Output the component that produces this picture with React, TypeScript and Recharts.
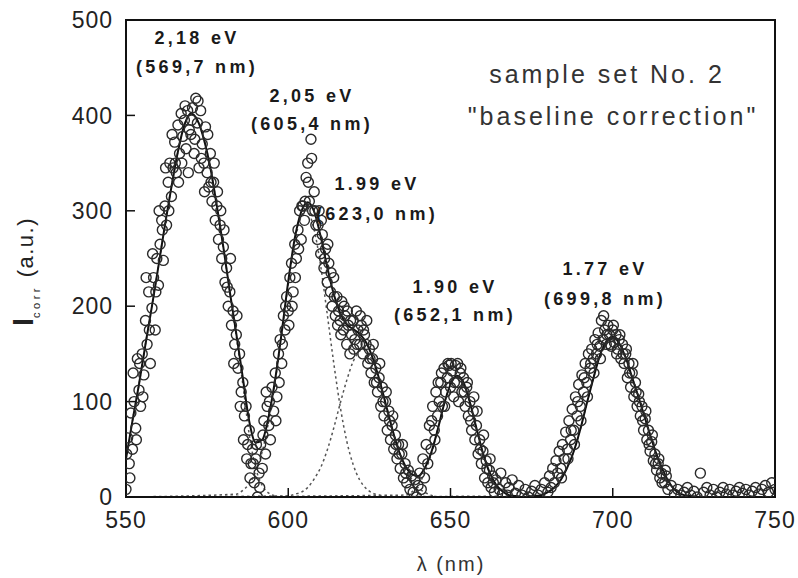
import React from 'react';
import { ComposedChart, Line, Scatter, XAxis, YAxis, ReferenceArea } from 'recharts';

const measured: [number, number][] = [
  [550, 8], [550.5, 62], [551, 35], [551.5, 88], [552, 50], [552.5, 100], [553, 72], [553.5, 145], [554, 112], [554.5, 95],
  [555, 150], [555.5, 128], [556, 185], [556.5, 160], [557, 215], [557.5, 140], [558, 198], [558.5, 230], [559, 175], [559.5, 250],
  [560, 222], [560.5, 265], [561, 290], [561.5, 248], [562, 305], [562.5, 285], [563, 330], [563.5, 350], [564, 315], [564.5, 345],
  [565, 372], [565.5, 340], [566, 390], [566.5, 360], [567, 402], [567.5, 378], [568, 395], [568.5, 365], [569, 405], [569.5, 385],
  [570, 380], [570.5, 408], [571, 360], [571.5, 418], [572, 392], [572.5, 345], [573, 405], [573.5, 370], [574, 350], [574.5, 388],
  [575, 340], [575.5, 325], [576, 360], [576.5, 310], [577, 330], [577.5, 290], [578, 305], [578.5, 270], [579, 285], [579.5, 250],
  [580, 262], [580.5, 225], [581, 240], [581.5, 200], [582, 215], [582.5, 180], [583, 195], [583.5, 160], [584, 170], [584.5, 135],
  [585, 150], [585.5, 110], [586, 120], [586.5, 85], [587, 95], [587.5, 55], [588, 70], [588.5, 35], [589, 50], [589.5, 15],
  [590, 40], [590.5, 0], [591, 25], [591.5, 55], [592, 30], [592.5, 80], [593, 45], [593.5, 95], [594, 75], [594.5, 60],
  [595, 115], [595.5, 90], [596, 130], [596.5, 105], [597, 150], [597.5, 165], [598, 140], [598.5, 190], [599, 175], [599.5, 210],
  [600, 195], [600.5, 230], [601, 245], [601.5, 215], [602, 265], [602.5, 250], [603, 280], [603.5, 300], [604, 270], [604.5, 305],
  [605, 290], [605.5, 335], [606, 350], [606.5, 310], [607, 375], [607.5, 300], [608, 320], [608.5, 285], [609, 270], [609.5, 300],
  [610, 255], [610.5, 275], [611, 240], [611.5, 260], [612, 225], [612.5, 245], [613, 215], [613.5, 200], [614, 230], [614.5, 190],
  [615, 210], [615.5, 195], [616, 185], [616.5, 205], [617, 175], [617.5, 190], [618, 160], [618.5, 180], [619, 150], [619.5, 170],
  [620, 185], [620.5, 165], [621, 195], [621.5, 175], [622, 160], [622.5, 180], [623, 150], [623.5, 170], [624, 160], [624.5, 140],
  [625, 155], [625.5, 130], [626, 145], [626.5, 120], [627, 135], [627.5, 110], [628, 125], [628.5, 95], [629, 115], [629.5, 85],
  [630, 100], [630.5, 70], [631, 90], [631.5, 60], [632, 75], [632.5, 50], [633, 65], [633.5, 40], [634, 55], [634.5, 30],
  [635, 45], [635.5, 20], [636, 35], [636.5, 15], [637, 28], [637.5, 8], [638, 22], [638.5, 5], [639, 18], [639.5, 0],
  [640, 12], [640.5, 25], [641, 8], [641.5, 40], [642, 20], [642.5, 55], [643, 35], [643.5, 75], [644, 50], [644.5, 95],
  [645, 70], [645.5, 110], [646, 85], [646.5, 100], [647, 120], [647.5, 95], [648, 135], [648.5, 110], [649, 125], [649.5, 138],
  [650, 115], [650.5, 132], [651, 105], [651.5, 138], [652, 120], [652.5, 100], [653, 130], [653.5, 110], [654, 125], [654.5, 95],
  [655, 115], [655.5, 85], [656, 100], [656.5, 70], [657, 90], [657.5, 60], [658, 75], [658.5, 45], [659, 60], [659.5, 35],
  [660, 48], [660.5, 20], [661, 38], [661.5, 15], [662, 28], [662.5, 10], [663, 22], [663.5, 5], [664, 18], [665, 8],
  [665.5, 25], [666, 3], [667, 15], [667.5, 2], [668, 10], [669, 18], [670, 4], [671, 12], [672, 2], [673, 8],
  [674, 0], [675, 6], [676, 12], [677, 2], [678, 8], [679, 15], [680, 5], [680.5, 22], [681, 10], [681.5, 30],
  [682, 15], [682.5, 38], [683, 25], [683.5, 48], [684, 30], [684.5, 55], [685, 40], [685.5, 68], [686, 50], [686.5, 80],
  [687, 60], [687.5, 92], [688, 70], [688.5, 105], [689, 85], [689.5, 118], [690, 95], [690.5, 128], [691, 110], [691.5, 140],
  [692, 120], [692.5, 150], [693, 135], [693.5, 155], [694, 145], [694.5, 165], [695, 150], [695.5, 172], [696, 158], [696.5, 185],
  [697, 165], [697.5, 175], [698, 160], [698.5, 180], [699, 170], [699.5, 158], [700, 175], [700.5, 162], [701, 170], [701.5, 155],
  [702, 165], [702.5, 145], [703, 160], [703.5, 140], [704, 150], [704.5, 125], [705, 140], [705.5, 115], [706, 130], [706.5, 105],
  [707, 120], [707.5, 95], [708, 108], [708.5, 85], [709, 95], [709.5, 70], [710, 82], [710.5, 60], [711, 70], [711.5, 48],
  [712, 58], [712.5, 38], [713, 45], [713.5, 28], [714, 35], [714.5, 20], [715, 25], [716, 15], [716.5, 22], [717, 8],
  [718, 12], [719, 3], [720, 8], [721, 2], [722, 5], [723, 10], [724, 2], [725, 6], [726, 0], [727, 25],
  [728, 5], [729, 10], [730, 2], [731, 8], [732, 0], [733, 5], [734, 10], [735, 3], [736, 8], [737, 2],
  [738, 6], [739, 10], [740, 4], [741, 8], [742, 2], [743, 6], [744, 10], [745, 3], [746, 8], [747, 12],
  [748, 5], [749, 15], [750, 8],
];

// second, interleaved set of measured points (denser scatter around the peaks)
const measuredExtra: [number, number][] = [
  [550.2, 45], [551.2, 20], [552.2, 130], [553.2, 60], [554.2, 140], [555.2, 105], [556.2, 230], [557.2, 175], [558.2, 255], [559.2, 215],
  [560.2, 300], [561.2, 280], [562.2, 345], [563.2, 300], [564.2, 380], [565.2, 350], [566.2, 330], [567.2, 350], [568.2, 410], [569.2, 340],
  [570.2, 395], [571.2, 375], [572.2, 415], [573.2, 355], [574.2, 320], [575.2, 380], [576.2, 330], [577.2, 350], [578.2, 320], [579.2, 300],
  [580.2, 280], [581.2, 220], [582.2, 250], [583.2, 140], [584.2, 190], [585.2, 95], [586.2, 60], [587.2, 40], [588.2, 20], [589.2, 35],
  [590.2, 55], [591.2, 10], [592.2, 65], [593.2, 110], [594.2, 100],
  [596.2, 80], [597.2, 120], [598.2, 160], [599.2, 200], [600.2, 180], [601.2, 200], [602.2, 230], [603.2, 260], [604.2, 305], [605.2, 310],
  [606.2, 330], [607.2, 355], [608.2, 300], [609.2, 285], [610.2, 290], [611.2, 250], [612.2, 265], [613.2, 235], [614.2, 210], [615.2, 180],
  [616.2, 170], [617.2, 200], [618.2, 195], [619.2, 185], [620.2, 155], [621.2, 160], [622.2, 190], [623.2, 175], [624.2, 185], [625.2, 145],
  [626.2, 160], [627.2, 120], [628.2, 140], [629.2, 100], [630.2, 110], [631.2, 80], [632.2, 85], [633.2, 55], [634.2, 45], [635.2, 55],
  [636.2, 25],
  [644.2, 80], [645.2, 60], [646.2, 120], [647.2, 130], [648.2, 95], [649.2, 140], [650.2, 140], [651.2, 120], [652.2, 140], [653.2, 135],
  [654.2, 110], [655.2, 120], [656.2, 80], [657.2, 105], [658.2, 90], [659.2, 50], [660.2, 65], [661.2, 30], [662.2, 40], [663.2, 15],
  [684.2, 20], [686.2, 40], [687.2, 70], [688.2, 55], [689.2, 100], [690.2, 80], [691.2, 125], [692.2, 105], [693.2, 140], [694.2, 130],
  [695.2, 160], [696.2, 145], [697.2, 190], [698.2, 170], [699.2, 160], [700.2, 180], [701.2, 150], [702.2, 170], [703.2, 150], [704.2, 155],
  [705.2, 130], [706.2, 140], [707.2, 110], [708.2, 100], [709.2, 80], [710.2, 90], [711.2, 55], [712.2, 65], [713.2, 35], [714.2, 40],
  [715.2, 15], [716.2, 28],
];

// total fit (solid line)
const fitCurve: [number, number][] = [
  [550, 40], [552, 80], [554, 118], [556, 160], [558, 200], [560, 242], [562, 285], [564, 325], [566, 362], [568, 390],
  [570, 402], [572, 395], [574, 375], [576, 345], [578, 305], [580, 262], [582, 215], [584, 171], [586, 125], [588, 79],
  [590, 57], [592, 60], [594, 85], [596, 124], [598, 173], [600, 226], [602, 271], [604, 299], [606, 309], [608, 299],
  [610, 273], [612, 241], [614, 213], [616, 193], [618, 181], [620, 176], [622, 171], [624, 162], [626, 146], [628, 124],
  [630, 98], [632, 72], [634, 49], [636, 33], [638, 24], [640, 22], [642, 30], [644, 46], [646, 70], [648, 97],
  [650, 118], [652, 127], [654, 120], [656, 99], [658, 72], [660, 46], [662, 26], [664, 13], [666, 6], [668, 2],
  [670, 1], [672, 0], [676, 1], [678, 2], [680, 5], [682, 10], [684, 18], [686, 31], [688, 48], [690, 71],
  [692, 98], [694, 124], [696, 148], [698, 163], [700, 168], [702, 161], [704, 146], [706, 125], [708, 104], [710, 82],
  [712, 60], [714, 40], [716, 24], [718, 12], [720, 5], [722, 2], [724, 1], [726, 0], [750, 0],
];

// single gaussian components (dashed)
const band1: [number, number][] = [
  [550, 40], [552, 80], [554, 118], [556, 160], [558, 200], [560, 242], [562, 285], [564, 325], [566, 362], [568, 390],
  [570, 402], [572, 395], [574, 375], [576, 345], [578, 305], [580, 262], [582, 215], [584, 168], [586, 118], [588, 65],
  [590, 30], [592, 12], [594, 4], [596, 1], [598, 0], [750, 0],
];
const band2: [number, number][] = [
  [550, 0], [584, 3], [586, 7], [588, 14], [590, 27], [592, 48], [594, 80], [596, 122], [598, 171], [600, 223],
  [602, 267], [604, 294], [605.4, 300], [606, 299], [608, 280], [610, 242], [612, 192], [614, 141], [616, 95], [618, 59],
  [620, 34], [622, 18], [624, 9], [626, 4], [628, 2], [630, 0], [750, 0],
];
const band3: [number, number][] = [
  [550, 0], [600, 1], [602, 3], [604, 5], [606, 10], [608, 19], [610, 31], [612, 49], [614, 72], [616, 98],
  [618, 122], [620, 142], [622, 153], [623, 155], [624, 153], [626, 142], [628, 122], [630, 98], [632, 72], [634, 49],
  [636, 31], [638, 19], [640, 10], [642, 5], [644, 2], [646, 0], [750, 0],
];
const band4: [number, number][] = [
  [550, 0], [636, 2], [638, 5], [640, 12], [642, 25], [644, 44], [646, 70], [648, 97], [650, 118], [652, 127],
  [654, 120], [656, 99], [658, 72], [660, 46], [662, 26], [664, 13], [666, 6], [668, 2], [670, 0], [750, 0],
];
const band5: [number, number][] = [
  [550, 0], [676, 1], [678, 2], [680, 5], [682, 10], [684, 18], [686, 31], [688, 48], [690, 71], [692, 98],
  [694, 124], [696, 148], [698, 163], [700, 168], [702, 161], [704, 146], [706, 125], [708, 104], [710, 82], [712, 60],
  [714, 40], [716, 24], [718, 12], [720, 5], [722, 2], [724, 1], [726, 0], [750, 0],
];

const xTicks = [550, 600, 650, 700, 750];
const yTicks = [0, 100, 200, 300, 400, 500];

const peakEnergies = ['2,18 eV', '2,05 eV', '1.99 eV', '1.90 eV', '1.77 eV'];
const peakWavelengths = ['(569,7 nm)', '(605,4 nm)', '(623,0 nm)', '(652,1 nm)', '(699,8 nm)'];

const FONT = '"Liberation Sans", Arial, Helvetica, sans-serif';

const toPoints = (rows: [number, number][]) => rows.map(([x, y]) => ({ x, y }));

// where each peak caption sits (centre x, energy baseline, wavelength baseline)
const captionSpots = [
  [197, 44, 73],
  [312, 102, 130],
  [377, 190, 220],
  [455, 293, 321],
  [605, 275, 305],
];

const OpenCircle = (props: any) => {
  const { cx, cy } = props;
  if (cx == null || cy == null) return null;
  return <circle cx={cx} cy={cy} r={5} fill="none" stroke="#2a2a2a" strokeWidth={1.4} />;
};

export default function App() {
  const bands = [band1, band2, band3, band4, band5];
  const tickStyle = { fill: '#222', fontSize: 23, fontFamily: FONT, letterSpacing: 1 };

  return (
    <div style={{ position: 'absolute', left: 0, top: 0, width: 798, height: 578, background: '#fff' }}>
      <ComposedChart width={798} height={578} margin={{ top: 20, right: 23, bottom: 36, left: 66 }}>
        <XAxis
          type="number"
          dataKey="x"
          domain={[550, 750]}
          ticks={xTicks}
          interval={0}
          tickSize={-9}
          tickMargin={24}
          height={45}
          axisLine={{ stroke: '#111', strokeWidth: 2 }}
          tickLine={{ stroke: '#111', strokeWidth: 1.5 }}
          tick={tickStyle}
          allowDataOverflow
        />
        <YAxis
          type="number"
          domain={[0, 500]}
          ticks={yTicks}
          interval={0}
          tickSize={-9}
          tickMargin={22}
          width={60}
          axisLine={{ stroke: '#111', strokeWidth: 2 }}
          tickLine={{ stroke: '#111', strokeWidth: 1.5 }}
          tick={tickStyle}
          allowDataOverflow
        />
        <ReferenceArea x1={550} x2={750} y1={0} y2={500} fill="none" stroke="#111" strokeWidth={2} fillOpacity={0} />
        {bands.map((b, i) => (
          <Line
            key={`band-${i}`}
            data={toPoints(b)}
            dataKey="y"
            type="monotone"
            stroke="#555"
            strokeWidth={1.5}
            strokeDasharray="2.5 3"
            dot={false}
            activeDot={false}
            isAnimationActive={false}
          />
        ))}
        <Line
          data={toPoints(fitCurve)}
          dataKey="y"
          type="monotone"
          stroke="#111"
          strokeWidth={2}
          dot={false}
          activeDot={false}
          isAnimationActive={false}
        />
        <Scatter data={toPoints(measured)} dataKey="y" shape={OpenCircle} isAnimationActive={false} />
        <Scatter data={toPoints(measuredExtra)} dataKey="y" shape={OpenCircle} isAnimationActive={false} />
      </ComposedChart>

      <svg
        width={798}
        height={578}
        style={{ position: 'absolute', left: 0, top: 0, pointerEvents: 'none' }}
        fontFamily={FONT}
      >
        {peakEnergies.map((e, i) => (
          <g key={e} fill="#1a1a1a" fontWeight="bold" fontSize={18} letterSpacing={3.3} textAnchor="middle">
            <text x={captionSpots[i][0]} y={captionSpots[i][1]}>{e}</text>
            <text x={captionSpots[i][0]} y={captionSpots[i][2]}>{peakWavelengths[i]}</text>
          </g>
        ))}
        <g fill="#333" fontSize={25} letterSpacing={3} textAnchor="middle">
          <text x={607} y={83}>sample set No. 2</text>
          <text x={613} y={125}>"baseline correction"</text>
        </g>
        <text x={451} y={571} fill="#333" fontSize={20} letterSpacing={2} textAnchor="middle">λ (nm)</text>
        <text x={33} y={326} transform="rotate(-90 33 326)" fill="#222">
          <tspan fontWeight="bold" fontSize={29}>I</tspan>
          <tspan fontSize={11} dy={7} letterSpacing={3.5}>corr</tspan>
          <tspan fontSize={22} dy={-7} letterSpacing={1.5}> (a.u.)</tspan>
        </text>
      </svg>
    </div>
  );
}
